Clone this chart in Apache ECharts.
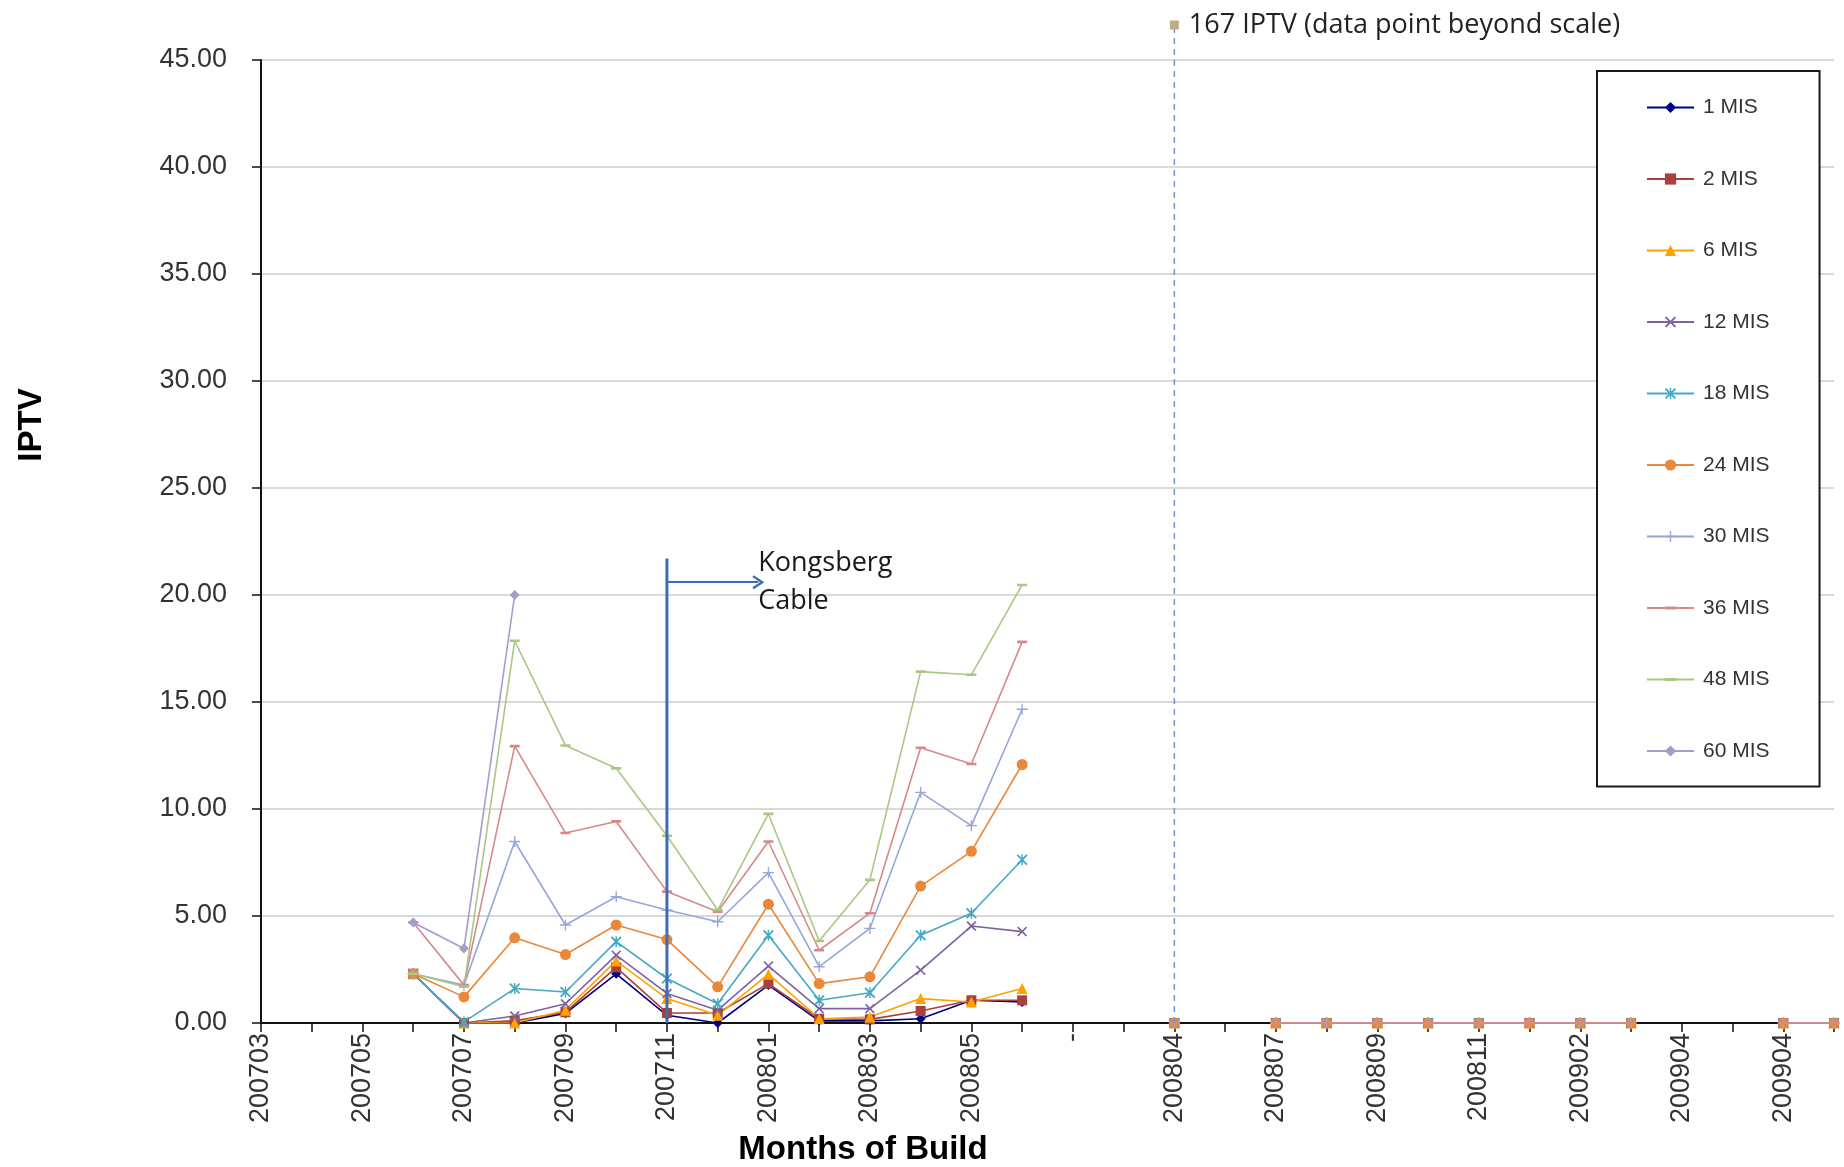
<!DOCTYPE html>
<html><head><meta charset="utf-8">
<script src="https://cdn.jsdelivr.net/npm/echarts@6/dist/echarts.min.js"></script>
<style>html,body{margin:0;padding:0;background:#fff}#c{width:1844px;height:1167px}</style>
</head><body><div id="c"></div>
<script>
// ---------- data ----------
const months = ['200703','200704','200705','200706','200707','200708','200709','200710','200711','200712',
  '200801','200802','200803','200804','200805','200806','-','-','200804','200806',
  '200807','200808','200809','200810','200811','200812','200902','200903','200904','200904','200904','200905'];

const seriesNames = ['1 MIS','2 MIS','6 MIS','12 MIS','18 MIS','24 MIS','30 MIS','36 MIS','48 MIS','60 MIS'];

const mis1  = [null,null,null, 2.3,0,0,0.45,2.3,0.36,0,1.77,0.1,0.1,0.2,1.06,0.98, null,null,0,null,0,0,0,0,0,0,0,0,null,null,0,0];
const mis2  = [null,null,null, 2.3,0,0.1,0.5,2.6,0.47,0.47,1.84,0.2,0.17,0.56,1.06,1.06, null,null,0,null,0,0,0,0,0,0,0,0,null,null,0,0];
const mis6  = [null,null,null, 2.3,0,0,0.6,2.9,1.14,0.36,2.28,0.2,0.28,1.14,0.98,1.61, null,null,0,null,0,0,0,0,0,0,0,0,null,null,0,0];
const mis12 = [null,null,null, 2.3,0,0.33,0.9,3.17,1.38,0.6,2.66,0.67,0.67,2.47,4.53,4.27, null,null,0,null,0,0,0,0,0,0,0,0,null,null,0,0];
const mis18 = [null,null,null, 2.3,0.05,1.61,1.45,3.8,2.08,0.9,4.1,1.06,1.41,4.1,5.13,7.63, null,null,0,null,0,0,0,0,0,0,0,0,null,null,0,0];
const mis24 = [null,null,null, 2.3,1.22,3.98,3.2,4.58,3.9,1.69,5.55,1.84,2.16,6.4,8.02,12.08, null,null,0,null,0,0,0,0,0,0,0,0,null,null,0,0];
const mis30 = [null,null,null, 2.3,1.77,8.48,4.58,5.9,5.28,4.73,7.03,2.63,4.42,10.78,9.22,14.66, null,null,0,null,0,0,0,0,0,0,0,0,null,null,0,0];
const mis36 = [null,null,null, 4.7,1.77,12.94,8.88,9.42,6.14,5.2,8.48,3.4,5.13,12.86,12.1,17.81, null,null,0,null,0,0,0,0,0,0,0,0,null,null,0,0];
const mis48 = [null,null,null, 2.3,1.7,17.86,12.97,11.9,8.75,5.28,9.77,3.83,6.69,16.42,16.27,20.47, null,null,null,null,null,null,null,null,null,null,null,null,null,null,null,null];
const mis60 = [null,null,null, 4.7,3.48,20.0,null,null,null,null,null,null,null,null,null,null, null,null,null,null,null,null,null,null,null,null,null,null,null,null,null,null];

const yMin = 0, yMax = 45, yStep = 5;

// annotation: Kongsberg cable
const kongsbergMonth = '200711';
const kongsbergLineTop = 21.7;
const kongsbergArrowLevel = 20.6;
const kongsbergArrowEndPos = 9.8;   // position along the month axis (category index units)
const kongsbergText = 'Kongsberg\nCable';

// annotation: out-of-scale value
const beyondMonth = '200804';
const beyondValue = 167;
const beyondText = '167 IPTV (data point beyond scale)';

// ---------- styles ----------
const colors = ['#000080','#A8403D','#FFA200','#7E62A0','#45A9C2','#E9873A','#94A6DA','#D7898A','#AAC784','#A79BC9'];
const X_PATH = 'path://M0,1.2L1.2,0L5,3.8L8.8,0L10,1.2L6.2,5L10,8.8L8.8,10L5,6.2L1.2,10L0,8.8L3.8,5Z';
const STAR_PATH = 'path://M0,1.2L1.2,0L5,3.8L8.8,0L10,1.2L6.2,5L10,8.8L8.8,10L5,6.2L1.2,10L0,8.8L3.8,5Z M4.35,0L5.65,0L5.65,10L4.35,10Z';
const PLUS_PATH = 'path://M4.4,0L5.6,0L5.6,4.4L10,4.4L10,5.6L5.6,5.6L5.6,10L4.4,10L4.4,5.6L0,5.6L0,4.4L4.4,4.4Z';
// short horizontal dash inside a square box (tiny corner specks keep the square bounds)
const DASH_PATH = 'path://M0,0L0.01,0L0,0.01Z M10,10L9.99,10L10,9.99Z M0,3.7L10,3.7L10,6.3L0,6.3Z';
const CHEVRON = 'path://M5,0L10,7L8.6,8L5,2.8L1.4,8L0,7Z';
const symbols = ['diamond','rect','triangle',X_PATH,STAR_PATH,'circle',PLUS_PATH,DASH_PATH,DASH_PATH,'diamond'];
const symbolSizes = [10,10,11,10,11,11,11,10,10,10];
const valuesList = [mis1,mis2,mis6,mis12,mis18,mis24,mis30,mis36,mis48,mis60];

const FONT = 'Liberation Sans, Arial, sans-serif';
const FONT2 = 'Open Sans, Noto Sans, sans-serif';

const series = seriesNames.map((name, i) => ({
  name, type: 'line', xAxisIndex: 0, yAxisIndex: 0,
  data: valuesList[i], connectNulls: false,
  symbol: symbols[i], symbolSize: symbolSizes[i],
  showSymbol: true, showAllSymbol: true,
  color: colors[i],
  itemStyle: { color: colors[i] },
  lineStyle: { color: colors[i], width: 1.6 },
  emphasis: { disabled: true }, silent: true, animation: false
}));

const kIdx = months.indexOf(kongsbergMonth);
series.push({
  name: 'Kongsberg', type: 'line', xAxisIndex: 1, yAxisIndex: 0,
  data: [[kIdx, 0], [kIdx, kongsbergLineTop]],
  symbol: 'none', lineStyle: { color: '#3D6EB5', width: 3 }, silent: true, animation: false, z: 5,
  markLine: {
    silent: true, animation: false,
    symbol: ['none', CHEVRON], symbolSize: [14, 12],
    lineStyle: { color: '#3D6EB5', width: 2, type: 'solid' },
    label: { show: true, position: 'end', distance: 0, formatter: kongsbergText,
      color: '#1a1a1a', fontFamily: FONT2, fontSize: 27, lineHeight: 38, align: 'left',
      padding: [11, 0, 0, 0] },
    data: [[{ coord: [kIdx, kongsbergArrowLevel] }, { coord: [kongsbergArrowEndPos, kongsbergArrowLevel] }]]
  }
});

const bIdx = months.lastIndexOf(beyondMonth);
series.push({
  name: 'beyond', type: 'line', xAxisIndex: 2, yAxisIndex: 1,
  data: [
    { value: [bIdx, 0], symbol: 'none' },
    { value: [bIdx, beyondValue], symbol: 'rect', symbolSize: 9,
      label: { show: true, position: 'right', distance: 10, formatter: beyondText,
        color: '#222', fontFamily: FONT2, fontSize: 27, padding: [0, 0, 4, 0] } }
  ],
  showSymbol: true, itemStyle: { color: '#BCAE84' },
  lineStyle: { color: '#7093D2', width: 1.5, type: [6, 5] },
  silent: true, animation: false, z: 4
});

const option = {
  backgroundColor: '#ffffff',
  animation: false,
  grid: [
    { left: 261, right: 10, top: 60, bottom: 144, containLabel: false, outerBoundsMode: 'none' },
    { left: 261, right: 10, top: 25, bottom: 144, containLabel: false, outerBoundsMode: 'none' }
  ],
  legend: {
    data: seriesNames, orient: 'vertical', left: 1597, top: 71,
    padding: [26, 50, 25, 49], itemGap: 50.5, itemWidth: 47, itemHeight: 14,
    borderColor: '#1a1a1a', borderWidth: 2, backgroundColor: '#fff',
    selectedMode: false,
    textStyle: { fontFamily: FONT, fontSize: 21, color: '#333', padding: [0, 0, 0, 4] }
  },
  xAxis: [
    { type: 'category', gridIndex: 0, data: months, boundaryGap: false,
      axisLine: { show: true, lineStyle: { color: '#111', width: 2 } },
      axisTick: { show: true, interval: 0, length: 9, lineStyle: { color: '#111', width: 1.5 } },
      axisLabel: { interval: 1, rotate: 90, margin: 10, fontSize: 27, color: '#333', fontFamily: FONT },
      splitLine: { show: false },
      name: 'Months of Build', nameLocation: 'middle', nameGap: 110,
      nameTextStyle: { fontSize: 33, fontWeight: 'bold', color: '#000', fontFamily: FONT, padding: [0, 369, 0, 0] }
    },
    { type: 'value', gridIndex: 0, min: 0, max: months.length - 1, show: false },
    { type: 'value', gridIndex: 1, min: 0, max: months.length - 1, show: false }
  ],
  yAxis: [
    { type: 'value', gridIndex: 0, min: yMin, max: yMax, interval: yStep,
      axisLine: { show: true, lineStyle: { color: '#111', width: 2 } },
      axisTick: { show: true, length: 9, lineStyle: { color: '#111', width: 1.5 } },
      axisLabel: { formatter: v => v.toFixed(2), margin: 34, fontSize: 27, color: '#333', fontFamily: FONT },
      splitLine: { show: true, lineStyle: { color: '#cccccc', width: 1.5 } },
      name: 'IPTV', nameLocation: 'middle', nameRotate: 90, nameGap: 213,
      nameTextStyle: { fontSize: 33, fontWeight: 'bold', color: '#000', fontFamily: FONT, padding: [0, 0, 0, 233] }
    },
    { type: 'value', gridIndex: 1, min: 0, max: beyondValue, show: false }
  ],
  series
};

const chart = echarts.init(document.getElementById('c'), null, { renderer: 'canvas' });
chart.setOption(option);
</script>
</body></html>
